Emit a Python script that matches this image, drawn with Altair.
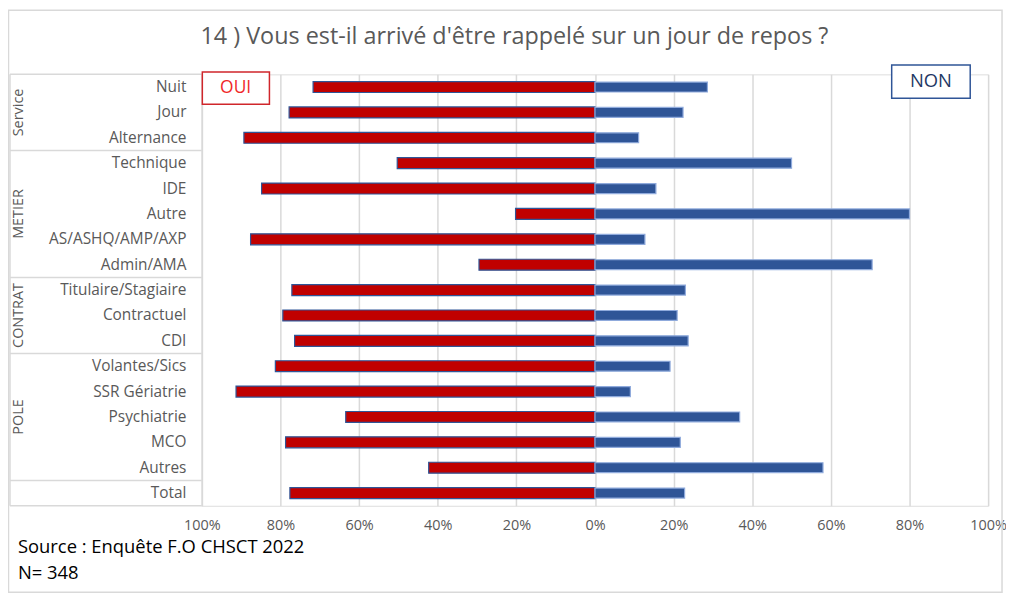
import altair as alt
import pandas as pd

# ---- data ----
categories = ["Nuit", "Jour", "Alternance", "Technique", "IDE", "Autre",
              "AS/ASHQ/AMP/AXP", "Admin/AMA", "Titulaire/Stagiaire", "Contractuel",
              "CDI", "Volantes/Sics", "SSR Gériatrie", "Psychiatrie", "MCO",
              "Autres", "Total"]
oui = [71.7, 77.8, 89.3, 50.3, 84.8, 20.2, 87.6, 29.5, 77.1, 79.4,
       76.4, 81.3, 91.3, 63.4, 78.7, 42.3, 77.6]
non = [28.6, 22.4, 11.1, 50.0, 15.5, 80.0, 12.7, 70.5, 23.0, 20.9,
       23.7, 19.1, 9.0, 36.8, 21.7, 58.0, 22.8]

series = ["OUI", "NON"]
series_fill = ["#C00000", "#2F5597"]
series_stroke = ["#2F5597", "#8FAADC"]

group_names = ["Service", "METIER", "CONTRAT", "POLE"]
group_first = ["Nuit", "Technique", "Titulaire/Stagiaire", "Volantes/Sics"]
group_mid = ["Jour", "Autre", "Contractuel", "Psychiatrie"]

tick_values = [-100, -80, -60, -40, -20, 0, 20, 40, 60, 80, 100]

title_text = "14 ) Vous est-il arrivé d'être rappelé sur un jour de repos ?"
source_lines = ["Source : Enquête F.O CHSCT 2022", "N= 348"]

FONT = "Open Sans"
GREY = "#595959"
LINE = "#D9D9D9"

W, H = 791, 434

rows = []
for c, o, n in zip(categories, oui, non):
    rows.append({"cat": c, "serie": "OUI", "start": -o, "end": 0})
    rows.append({"cat": c, "serie": "NON", "start": 0, "end": n})
df = pd.DataFrame(rows)

yscale = alt.Scale(domain=categories, paddingInner=0, paddingOuter=0)
xscale = alt.Scale(domain=[-100, 100], nice=False, zero=False)

bars = alt.Chart(df).mark_bar(strokeWidth=1.2).encode(
    x=alt.X("start:Q", scale=xscale,
            axis=alt.Axis(title=None, values=tick_values,
                          labelExpr="abs(datum.value) + '%'",
                          grid=True, gridColor=LINE, gridWidth=1.5,
                          domain=False, ticks=False, labelColor=GREY,
                          labelFontSize=14.5, labelFont=FONT, labelPadding=13,
                          labelFlush=False)),
    x2=alt.X2("end:Q"),
    y=alt.Y("cat:N", scale=yscale,
            axis=alt.Axis(title=None, ticks=False, domainColor=LINE,
                          domainWidth=1.5, labelColor=GREY, labelFontSize=15.5,
                          labelFont=FONT, labelPadding=16, labelLimit=220,
                          grid=False)),
    color=alt.Color("serie:N", scale=alt.Scale(domain=series, range=series_fill),
                    legend=None),
    stroke=alt.Stroke("serie:N", scale=alt.Scale(domain=series, range=series_stroke),
                      legend=None),
    size=alt.Size("serie:N", scale=alt.Scale(domain=series, range=[11, 10]),
                  legend=None),
)

# table decoration
gdf = pd.DataFrame({"cat": group_first + ["Total"]})
rules_top = alt.Chart(gdf).mark_rule(color=LINE, strokeWidth=1.5).encode(
    y=alt.Y("cat:N", scale=yscale, bandPosition=0, axis=None),
    x=alt.value(-193), x2=alt.value(0),
)
bdf = pd.DataFrame({"cat": ["Total"]})
rule_bottom = alt.Chart(bdf).mark_rule(color=LINE, strokeWidth=1.5).encode(
    y=alt.Y("cat:N", scale=yscale, bandPosition=1, axis=None),
    x=alt.value(-193), x2=alt.value(0),
)
one = pd.DataFrame({"a": [0]})
rule_left = alt.Chart(one).mark_rule(color=LINE, strokeWidth=1.5).encode(
    x=alt.value(-193), y=alt.value(0), y2=alt.value(H),
)

mdf = pd.DataFrame({"cat": group_mid, "name": group_names})
group_text = alt.Chart(mdf).mark_text(angle=270, font=FONT, fontSize=14.5,
                                      color=GREY, align="center",
                                      baseline="middle").encode(
    y=alt.Y("cat:N", scale=yscale, axis=None),
    x=alt.value(-184),
    text="name:N",
)

# frame
frame = alt.Chart(one).mark_rect(fill="transparent", stroke=LINE,
                                 strokeWidth=1.5).encode(
    x=alt.value(-194.5), x2=alt.value(805), y=alt.value(-64.5), y2=alt.value(521),
)

# OUI / NON boxes
oui_box = alt.Chart(one).mark_rect(fill="white", stroke="#D0262B",
                                   strokeWidth=1.5).encode(
    x=alt.value(0.5), x2=alt.value(68), y=alt.value(-2.5), y2=alt.value(30),
)
oui_txt = alt.Chart(pd.DataFrame({"t": ["OUI"]})).mark_text(
    font=FONT, fontSize=17.5, color="#F02828", align="center", baseline="middle"
).encode(x=alt.value(34), y=alt.value(14), text="t:N")
non_box = alt.Chart(one).mark_rect(fill="white", stroke="#2F5597",
                                   strokeWidth=1.5).encode(
    x=alt.value(694), x2=alt.value(773), y=alt.value(-9.5), y2=alt.value(24),
)
non_txt = alt.Chart(pd.DataFrame({"t": ["NON"]})).mark_text(
    font=FONT, fontSize=18.5, color="#1F3864", align="center", baseline="middle"
).encode(x=alt.value(733.5), y=alt.value(7), text="t:N")

title = alt.Chart(pd.DataFrame({"t": [title_text]})).mark_text(
    font=FONT, fontSize=23.5, color=GREY, align="center", baseline="middle"
).encode(x=alt.value(314.5), y=alt.value(-38), text="t:N")

src = alt.Chart(pd.DataFrame({"t": source_lines, "i": [0, 1]})).mark_text(
    font=FONT, fontSize=18.5, color="black", align="left", baseline="middle"
).encode(
    x=alt.value(-185),
    y=alt.Y("i:Q", scale=alt.Scale(domain=[0, 1], range=[476, 502]), axis=None),
    text="t:N",
)

chart = alt.layer(
    frame, rule_left, rules_top, rule_bottom, group_text,
    bars, oui_box, oui_txt, non_box, non_txt, title, src
).properties(
    width=W, height=H,
    padding={"left": 195, "top": 65, "right": 18, "bottom": 88},
    autosize="none",
).resolve_scale(y="shared").configure_view(
    stroke="transparent", strokeWidth=0
).configure(background="white")

chart.save("out.html", embed_options={"renderer": "svg", "actions": False})
